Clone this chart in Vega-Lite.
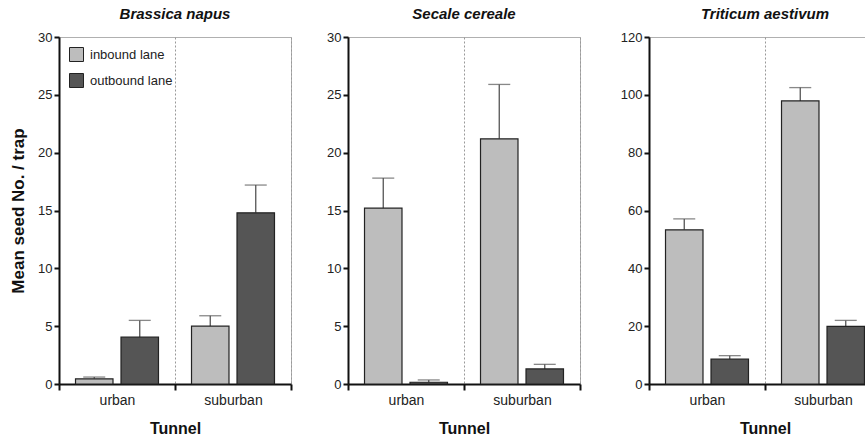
{
  "$schema": "https://vega.github.io/schema/vega-lite/v6.json",
  "padding": {"left": 8, "top": 6, "right": -8, "bottom": 0},
  "spacing": 10,
  "datasets": {
    "brassica": [
      {"tunnel": "urban", "lane": "inbound lane", "mean": 0.45, "upper": 0.6},
      {"tunnel": "urban", "lane": "outbound lane", "mean": 4.05, "upper": 5.5},
      {"tunnel": "suburban", "lane": "inbound lane", "mean": 5.0, "upper": 5.9},
      {"tunnel": "suburban", "lane": "outbound lane", "mean": 14.8, "upper": 17.2}
    ],
    "secale": [
      {"tunnel": "urban", "lane": "inbound lane", "mean": 15.2, "upper": 17.8},
      {"tunnel": "urban", "lane": "outbound lane", "mean": 0.15, "upper": 0.35},
      {"tunnel": "suburban", "lane": "inbound lane", "mean": 21.2, "upper": 25.9},
      {"tunnel": "suburban", "lane": "outbound lane", "mean": 1.3, "upper": 1.7}
    ],
    "triticum": [
      {"tunnel": "urban", "lane": "inbound lane", "mean": 53.3, "upper": 57.1},
      {"tunnel": "urban", "lane": "outbound lane", "mean": 8.6, "upper": 9.8},
      {"tunnel": "suburban", "lane": "inbound lane", "mean": 97.9, "upper": 102.5},
      {"tunnel": "suburban", "lane": "outbound lane", "mean": 19.9, "upper": 22.0}
    ]
  },
  "resolve": {"scale": {"y": "independent", "color": "shared"}, "legend": {"color": "independent"}},
  "hconcat": [
    {
      "title": "Brassica napus",
      "width": 232,
      "height": 347,
      "data": {"name": "brassica"},
      "encoding": {
        "x": {"field": "tunnel", "type": "nominal", "sort": ["urban", "suburban"], "scale": {"paddingInner": 0, "paddingOuter": 0}, "axis": {"title": "Tunnel"}},
        "xOffset": {"field": "lane", "type": "nominal", "sort": ["inbound lane", "outbound lane"], "scale": {"paddingInner": 0.176, "paddingOuter": 0.363}}
      },
      "layer": [
        {
          "mark": {"type": "rule", "color": "#555", "strokeWidth": 1.3},
          "encoding": {
            "y": {"field": "mean", "type": "quantitative", "scale": {"domain": [0, 30], "nice": false}, "axis": {"values": [0, 5, 10, 15, 20, 25, 30], "title": "Mean seed No. / trap", "minExtent": 22, "maxExtent": 22, "titlePadding": 10}},
            "y2": {"field": "upper"}
          }
        },
        {
          "mark": {"type": "tick", "color": "#555", "thickness": 1.3, "size": 22},
          "encoding": {"y": {"field": "upper", "type": "quantitative"}}
        },
        {
          "mark": {"type": "bar", "stroke": "#222", "strokeWidth": 1.2},
          "encoding": {
            "y": {"field": "mean", "type": "quantitative"},
            "color": {"field": "lane", "type": "nominal", "scale": {"domain": ["inbound lane", "outbound lane"], "range": ["#bdbdbd", "#555555"]}, "legend": {"title": null, "orient": "top-left"}}
          }
        }
      ]
    },
    {
      "title": "Secale cereale",
      "width": 232,
      "height": 347,
      "data": {"name": "secale"},
      "encoding": {
        "x": {"field": "tunnel", "type": "nominal", "sort": ["urban", "suburban"], "scale": {"paddingInner": 0, "paddingOuter": 0}, "axis": {"title": "Tunnel"}},
        "xOffset": {"field": "lane", "type": "nominal", "sort": ["inbound lane", "outbound lane"], "scale": {"paddingInner": 0.176, "paddingOuter": 0.363}}
      },
      "layer": [
        {
          "mark": {"type": "rule", "color": "#555", "strokeWidth": 1.3},
          "encoding": {
            "y": {"field": "mean", "type": "quantitative", "scale": {"domain": [0, 30], "nice": false}, "axis": {"values": [0, 5, 10, 15, 20, 25, 30], "title": null, "minExtent": 44, "maxExtent": 44}},
            "y2": {"field": "upper"}
          }
        },
        {
          "mark": {"type": "tick", "color": "#555", "thickness": 1.3, "size": 22},
          "encoding": {"y": {"field": "upper", "type": "quantitative"}}
        },
        {
          "mark": {"type": "bar", "stroke": "#222", "strokeWidth": 1.2},
          "encoding": {
            "y": {"field": "mean", "type": "quantitative"},
            "color": {"field": "lane", "type": "nominal", "legend": null}
          }
        }
      ]
    },
    {
      "title": "Triticum aestivum",
      "width": 232,
      "height": 347,
      "data": {"name": "triticum"},
      "encoding": {
        "x": {"field": "tunnel", "type": "nominal", "sort": ["urban", "suburban"], "scale": {"paddingInner": 0, "paddingOuter": 0}, "axis": {"title": "Tunnel"}},
        "xOffset": {"field": "lane", "type": "nominal", "sort": ["inbound lane", "outbound lane"], "scale": {"paddingInner": 0.176, "paddingOuter": 0.363}}
      },
      "layer": [
        {
          "mark": {"type": "rule", "color": "#555", "strokeWidth": 1.3},
          "encoding": {
            "y": {"field": "mean", "type": "quantitative", "scale": {"domain": [0, 120], "nice": false}, "axis": {"values": [0, 20, 40, 60, 80, 100, 120], "title": null, "minExtent": 56, "maxExtent": 56}},
            "y2": {"field": "upper"}
          }
        },
        {
          "mark": {"type": "tick", "color": "#555", "thickness": 1.3, "size": 22},
          "encoding": {"y": {"field": "upper", "type": "quantitative"}}
        },
        {
          "mark": {"type": "bar", "stroke": "#222", "strokeWidth": 1.2},
          "encoding": {
            "y": {"field": "mean", "type": "quantitative"},
            "color": {"field": "lane", "type": "nominal", "legend": null}
          }
        }
      ]
    }
  ],
  "config": {
    "background": "white",
    "font": "Liberation Sans",
    "view": {"stroke": "#b0b0b0", "strokeWidth": 1},
    "title": {"font": "Liberation Sans", "fontSize": 15, "fontStyle": "italic", "fontWeight": "bold", "color": "#111", "offset": 9},
    "axis": {
      "labelFont": "Liberation Sans", "labelFontSize": 13, "labelColor": "#222",
      "titleFont": "Liberation Sans", "titleColor": "#111", "titleFontWeight": "bold",
      "domainColor": "#111", "domainWidth": 2, "tickColor": "#111", "tickWidth": 2, "tickSize": 5, "labelPadding": 2, "grid": false
    },
    "axisY": {"titleFontSize": 17},
    "axisX": {"labelAngle": 0, "labelFontSize": 14, "tickBand": "extent", "grid": true, "gridDash": [2, 2], "gridColor": "#999", "gridWidth": 1, "titleFontSize": 16, "titlePadding": 13, "tickSize": 6, "labelPadding": 3},
    "legend": {"padding": 0, "offset": 10, "symbolType": "square", "symbolSize": 196, "symbolStrokeColor": "#222", "symbolStrokeWidth": 1, "labelFont": "Liberation Sans", "labelFontSize": 13, "labelColor": "#222", "labelOffset": 6, "rowPadding": 7}
  }
}
